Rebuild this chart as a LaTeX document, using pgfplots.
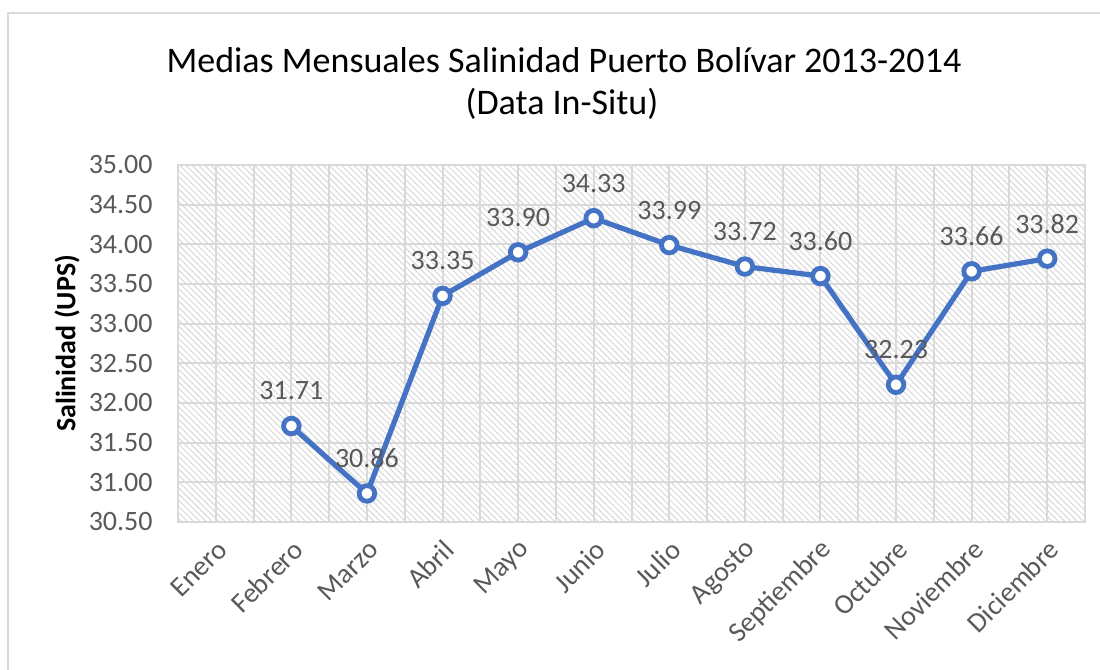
\documentclass[border=0pt]{standalone}
\usepackage{fontspec}
\setmainfont{Carlito}
\usepackage{pgfplots}
\pgfplotsset{compat=1.18}
\usetikzlibrary{patterns.meta}
\definecolor{xlblue}{HTML}{4472C4}
\definecolor{xlgrid}{HTML}{D9D9D9}
\definecolor{xltext}{HTML}{595959}
\definecolor{xlhatch}{HTML}{D8D8D8}
\begin{document}
\begin{tikzpicture}
% 1 px of the reference = 0.5pt
\useasboundingbox (0,0) rectangle (550pt,-335pt);
\draw[xlgrid, line width=1.25pt] (4pt,-335pt) -- (4pt,-6.5pt) -- (550pt,-6.5pt);
\node[anchor=base, font=\fontsize{18}{21}\selectfont] at (282pt,-36pt)
  {Medias Mensuales Salinidad Puerto Bolívar 2013-2014};
\node[anchor=base, font=\fontsize{18}{21}\selectfont] at (281pt,-57pt)
  {(Data In-Situ)};
\begin{axis}[
  at={(89pt,-261pt)}, anchor=south west,
  scale only axis, width=453.5pt, height=178.5pt,
  xmin=0.5, xmax=12.5, ymin=30.5, ymax=35,
  axis background/.style={pattern={Lines[angle=-45, distance=2.2pt, line width=0.5pt]}, pattern color=xlhatch},
  axis line style={xlgrid, line width=1pt},
  xtick={1,...,12},
  xticklabels={Enero,Febrero,Marzo,Abril,Mayo,Junio,Julio,Agosto,Septiembre,Octubre,Noviembre,Diciembre},
  minor xtick={0.5,1.5,...,12.5},
  ytick={30.5,31,...,35},
  grid=both,
  major grid style={xlgrid, line width=1pt},
  minor grid style={xlgrid, line width=1pt},
  major tick length=0pt, minor tick length=0pt,
  tick style={draw=none},
  /pgf/number format/assume math mode=true,
  yticklabel={\pgfmathprintnumber[fixed, fixed zerofill, precision=2]{\tick}},
  yticklabel style={font=\fontsize{14}{16}\selectfont, text=xltext, anchor=east, inner sep=0pt, xshift=-12.5pt},
  xticklabel style={font=\fontsize{14}{16}\selectfont, text=xltext, xshift=3.5pt, yshift=-11.5pt, rotate=45, anchor=east, inner sep=0pt},
  ylabel={Salinidad (UPS)},
  every axis y label/.style={at={(axis description cs:0,0.5)}, xshift=-55.5pt, rotate=90, anchor=center,
    font=\fontsize{14}{16}\selectfont\bfseries},
  clip=false,
]
\addplot[xlblue, line width=2.6pt, mark=*, mark size=3.9pt,
  mark options={fill=white, draw=xlblue, line width=2.4pt},
  nodes near coords,
  every node near coord/.append style={font=\fontsize{14}{16}\selectfont, text=xltext, anchor=center, yshift=17.5pt,
    /pgf/number format/fixed, /pgf/number format/fixed zerofill, /pgf/number format/precision=2},
] coordinates {
  (2,31.71) (3,30.86) (4,33.35) (5,33.90) (6,34.33) (7,33.99)
  (8,33.72) (9,33.60) (10,32.23) (11,33.66) (12,33.82)
};
\end{axis}
\end{tikzpicture}
\end{document}
